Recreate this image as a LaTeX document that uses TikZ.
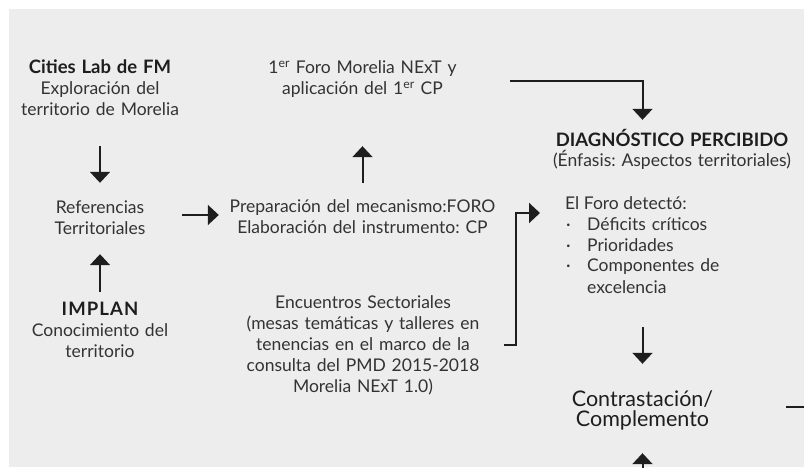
\documentclass[tikz,border=0pt]{standalone}
\usepackage{fontspec}
\setmainfont{Lato}
\usetikzlibrary{arrows.meta}
\definecolor{bg}{HTML}{EDEDED}
\definecolor{txt}{HTML}{333333}
\definecolor{dark}{HTML}{1E1E1E}
\definecolor{arrc}{HTML}{1E1E1E}
\newcommand{\hdtext}[1]{{\fontsize{18.5}{21}\selectfont\bfseries\color{dark}#1}}
\begin{document}
\frenchspacing
\begin{tikzpicture}[x=1pt,y=1pt,
  every node/.style={inner sep=0pt, font=\fontsize{17.5}{21}\selectfont, text=txt},
  lbl/.style={align=center, anchor=base},
  conn/.style={draw=arrc, line width=2pt},
  arrow/.style={conn, -{Triangle[width=20pt,length=11pt]}},
]
\useasboundingbox (0,0) rectangle (804,467);
\fill[white] (0,0) rectangle (804,467);
\fill[bg] (9,0) rectangle (804,458);

\node[lbl, text width=200pt, text height=12pt, text depth=42pt] (cities) at (100,393)
  {\hdtext{Cities Lab de FM}\\Exploración del\\territorio de Morelia};
\node[lbl, text width=200pt, text height=12pt, text depth=26pt] (foro) at (362.5,393)
  {1\textsuperscript{er} Foro Morelia NExT y\\aplicación del 1\textsuperscript{er} CP};
\node[lbl, text width=110pt, text height=17pt, text depth=21pt] (ref) at (100,254)
  {Referencias\\Territoriales};
\node[lbl, text width=270pt, text height=12pt, text depth=21pt] (prep) at (362.5,254.7)
  {Preparación del mecanismo:FORO\\Elaboración del instrumento: CP};
\node[lbl, text width=160pt, text height=12pt, text depth=42pt] (implan) at (100,152)
  {\hdtext{\addfontfeature{LetterSpace=6}IMPLAN}\\Conocimiento del\\territorio};
\node[lbl, text width=282pt, text height=14.6pt, text depth=88pt] (enc) at (363,158.7)
  {Encuentros Sectoriales\\(mesas temáticas y talleres en\\tenencias en el marco de la\\consulta del PMD 2015-2018\\Morelia NExT 1.0)};
\node[lbl, text width=260pt, text height=14pt, text depth=24pt] (diag) at (672,320.3)
  {\hdtext{DIAGNÓSTICO PERCIBIDO}\\[-1pt](Énfasis: Aspectos territoriales)};
\node[anchor=base west, text height=12pt, text depth=0pt] (elforo) at (565,258) {El Foro detectó:};
\node[anchor=base west, align=left, text width=200pt, text height=12pt, text depth=67pt] (bullets) at (565,237)
  {\makebox[22pt][l]{\hspace{1pt}·}Déficits críticos\\
   \makebox[22pt][l]{\hspace{1pt}·}Prioridades\\
   \makebox[22pt][l]{\hspace{1pt}·}Componentes de\\
   \hspace*{22pt}excelencia};
\node[lbl, text width=150pt, text height=24pt, text depth=24pt, font=\fontsize{21.5}{20}\selectfont, text=dark] (contrast) at (642.5,60.3)
  {Contrastación/\\Complemento};

\coordinate (cbot) at (642.5,-12);
\coordinate (cout) at (812,60.3);

\draw[arrow, shorten <=30pt, shorten >=13pt] (cities.south) -- (ref.north);
\draw[arrow, shorten <=27pt, shorten >=8.5pt] (ref.east) -- (ref.east -| prep.west);
\draw[arrow, shorten <=11pt, shorten >=20pt] (implan.north) -- (ref.south);
\draw[arrow, shorten <=17.3pt, shorten >=46pt] (prep.north) -- (foro.south);
\draw[arrow, shorten <=47.5pt, shorten >=12.7pt] (foro.east) -| (diag.north -| contrast.north);
\draw[arrow, shorten >=25pt] (enc.east) -- ++(12,0) |- ([yshift=-10pt]elforo.west);
\draw[arrow, shorten <=30pt, shorten >=18.7pt] (bullets.south -| contrast.north) -- (contrast.north);
\draw[arrow, shorten >=22.3pt] (cbot) -- (contrast.south);
\draw[conn, shorten <=68.5pt] (contrast.east) -- (cout);
\end{tikzpicture}
\end{document}
